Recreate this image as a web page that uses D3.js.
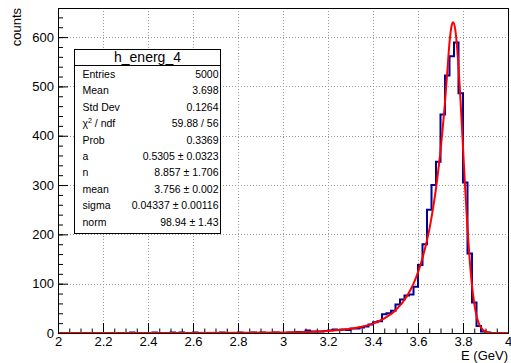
<!DOCTYPE html>
<html>
<head>
<meta charset="utf-8">
<script src="https://cdn.jsdelivr.net/npm/d3@7"></script>
<style>
body{margin:0;background:#fff;}
text{font-family:"Liberation Sans",Arial,Helvetica,sans-serif;}
</style>
</head>
<body>
<svg id="chart" width="511" height="363"></svg>
<script>
// histogram h_energ_4 : 100 bins from 2 to 4
var binStart = 2, binWidth = 0.02;
var counts = [
  0,0,0,0,0,0,0,0,0,0,
  0,0,0,0,0,0,1,0,0,0,
  0,1,0,0,0,1,0,1,0,0,
  1,0,0,0,0,0,1,0,0,0,
  1,0,0,1,0,1,0,0,1,0,
  0,1,1,2,1,5,3,3,3,4,
  5,7,6,7,6,9,9,11,13,17,
  22,24,38,40,45,58,68,76,78,94,
  138,180,250,300,347,443,522,561,589,486,
  305,161,62,14,3,1,0,0,0,0
];

// fitted curve
var fitX = [2.0,2.5,2.8,3.0,3.1,3.2,3.3,3.4,3.45,3.5,3.55,3.58,3.6,3.62,3.64,3.65,3.66,3.67,3.68,3.69,
            3.7,3.71,3.72,3.73,3.74,3.745,3.75,3.756,3.765,3.77,3.78,3.79,3.8,3.81,3.82,3.83,3.84,3.85,
            3.86,3.87,3.88,3.9,3.92,3.95,4.0];
var fitY = [0,0.1,0.4,1.1,2.1,4.1,8.6,19,29.5,46,74,100,123,152,188,209,234,262,293,329,
            369,416,468,528,589,610,624,630,617,598,541,463,377,290,212,147,96,60,
            35,20,11,2.5,0.5,0,0];

var xTicks = [2,2.2,2.4,2.6,2.8,3,3.2,3.4,3.6,3.8,4];
var yTicks = [0,100,200,300,400,500,600];

var statTitle = "h_energ_4";
var statLabels = ["Entries","Mean","Std Dev","chi2","Prob","a","n","mean","sigma","norm"];
var statValues = ["5000","3.698","0.1264","59.88 / 56","0.3369","0.5305 \u00b1 0.0323",
                  "8.857 \u00b1 1.706","3.756 \u00b1 0.002","0.04337 \u00b1 0.00116","98.94 \u00b1 1.43"];

var svg = d3.select("svg#chart");
var fL = 58, fR = 508, fT = 8, fB = 333;

var x = d3.scaleLinear().domain([2,4]).range([fL,fR]);
var y = d3.scaleLinear().domain([0,659]).range([fB,fT]);

svg.append("clipPath").attr("id","frameclip")
   .append("rect").attr("x",fL).attr("y",fT).attr("width",fR-fL).attr("height",fB-fT);

// grid
svg.selectAll("line.gx")
   .data(xTicks.slice(1,-1)).enter()
   .append("line").attr("class","gx")
   .attr("x1",function(d){return Math.round(x(d))+0.5;}).attr("x2",function(d){return Math.round(x(d))+0.5;})
   .attr("y1",fT).attr("y2",fB)
   .attr("stroke","#999").attr("stroke-width",1).attr("stroke-dasharray","1,2");
svg.selectAll("line.gy")
   .data(yTicks.slice(1)).enter()
   .append("line").attr("class","gy")
   .attr("x1",fL).attr("x2",fR)
   .attr("y1",function(d){return Math.round(y(d))+0.5;}).attr("y2",function(d){return Math.round(y(d))+0.5;})
   .attr("stroke","#999").attr("stroke-width",1).attr("stroke-dasharray","1,2");

// minor ticks
var xMinor = d3.range(0,41).map(function(i){return 2+i*0.05;});
var yMinor = d3.range(0,33).map(function(i){return i*20;});
svg.append("g").attr("transform","translate(0,"+fB+")")
   .call(d3.axisBottom(x).tickValues(xMinor).tickSizeInner(-4.5).tickSizeOuter(0).tickFormat(""))
   .call(function(g){g.select(".domain").remove();});
svg.append("g").attr("transform","translate("+fL+",0)")
   .call(d3.axisLeft(y).tickValues(yMinor).tickSizeInner(-5).tickSizeOuter(0).tickFormat(""))
   .call(function(g){g.select(".domain").remove();});

// major ticks + labels
var xAxis = svg.append("g").attr("transform","translate(0,"+fB+")")
   .call(d3.axisBottom(x).tickValues(xTicks).tickSizeInner(-10).tickSizeOuter(0).tickPadding(4)
         .tickFormat(d3.format("~g")));
xAxis.select(".domain").remove();
xAxis.selectAll("text").attr("font-size",13).attr("fill","#000")
     .attr("font-family","Liberation Sans, Arial, sans-serif");

var yAxis = svg.append("g").attr("transform","translate("+fL+",0)")
   .call(d3.axisLeft(y).tickValues(yTicks).tickSizeInner(-10).tickSizeOuter(0).tickPadding(4));
yAxis.select(".domain").remove();
yAxis.selectAll("text").attr("font-size",13).attr("fill","#000")
     .attr("font-family","Liberation Sans, Arial, sans-serif");

// histogram outline
var histPts = counts.map(function(c,i){return [binStart+i*binWidth, c];});
histPts.push([binStart+counts.length*binWidth, counts[counts.length-1]]);
var histLine = d3.line()
    .x(function(d){return x(d[0]);})
    .y(function(d){return y(d[1]);})
    .curve(d3.curveStepAfter);
svg.append("path")
   .datum(histPts)
   .attr("clip-path","url(#frameclip)")
   .attr("d",histLine)
   .attr("fill","none")
   .attr("stroke","#000099")
   .attr("stroke-width",2);

// fit
var fitLine = d3.line()
    .x(function(d,i){return x(fitX[i]);})
    .y(function(d){return y(d);})
    .curve(d3.curveMonotoneX);
svg.append("path")
   .datum(fitY)
   .attr("clip-path","url(#frameclip)")
   .attr("d",fitLine)
   .attr("fill","none")
   .attr("stroke","#ff0000")
   .attr("stroke-width",2);

// frame
svg.append("rect")
   .attr("x",fL+0.5).attr("y",fT+0.5).attr("width",fR-fL).attr("height",fB-fT)
   .attr("fill","none").attr("stroke","#000").attr("stroke-width",1);

// axis titles
svg.append("text")
   .attr("x",fR).attr("y",360)
   .attr("text-anchor","end")
   .attr("font-size",13)
   .text("E (GeV)");
svg.append("text")
   .attr("transform","translate(21,"+fT+") rotate(-90)")
   .attr("text-anchor","end")
   .attr("font-size",13)
   .text("counts");

// stats box
var bx = 74.5, by = 49.5, bw = 146, bh = 184;
var stats = svg.append("g");
stats.append("rect")
   .attr("x",bx).attr("y",by).attr("width",bw).attr("height",bh)
   .attr("fill","#fff").attr("stroke","#000").attr("stroke-width",1);
stats.append("line")
   .attr("x1",bx).attr("x2",bx+bw).attr("y1",65.5).attr("y2",65.5)
   .attr("stroke","#000").attr("stroke-width",1);
stats.append("text")
   .attr("x",bx+bw/2).attr("y",61.5)
   .attr("text-anchor","middle")
   .attr("font-size",14)
   .text(statTitle);

var rowLabel = stats.selectAll("text.slabel")
   .data(statLabels).enter()
   .append("text").attr("class","slabel")
   .attr("x",82.5)
   .attr("y",function(d,i){return 78 + i*16.4;})
   .attr("font-size",10.5);
rowLabel.each(function(d){
    var t = d3.select(this);
    if(d=="chi2"){
        t.append("tspan").text("\u03c7");
        t.append("tspan").attr("dy",-4).attr("font-size",7).text("2");
        t.append("tspan").attr("dy",4).text(" / ndf");
    } else t.text(d);
});

stats.selectAll("text.svalue")
   .data(statValues).enter()
   .append("text").attr("class","svalue")
   .attr("x",218.5)
   .attr("y",function(d,i){return 78 + i*16.4;})
   .attr("text-anchor","end")
   .attr("font-size",10.5)
   .text(function(d){return d;});
</script>
</body>
</html>
